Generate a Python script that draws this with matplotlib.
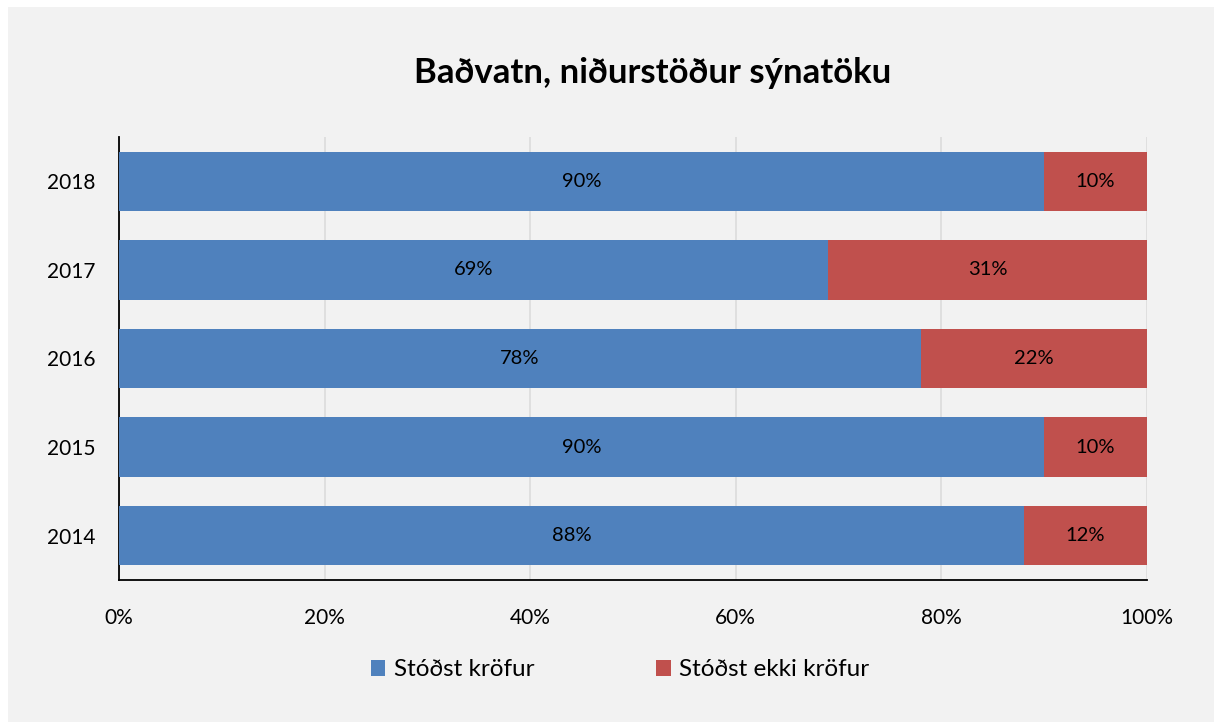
import matplotlib.pyplot as plt
from matplotlib.patches import Rectangle

plt.rcParams["font.family"] = ["Lato", "DejaVu Sans"]

years = ["2014", "2015", "2016", "2017", "2018"]
passed = [88, 90, 78, 69, 90]
failed = [12, 10, 22, 31, 10]
labels = ["Stóðst kröfur", "Stóðst ekki kröfur"]
colors = ["#4F81BD", "#C0504D"]

fig = plt.figure(figsize=(12.14, 7.22), dpi=100, facecolor="white")
fig.patches.append(
    Rectangle((8 / 1214, 0), 1 - 8 / 1214, 1 - 7 / 722,
              transform=fig.transFigure, facecolor="#F2F2F2", edgecolor="none", zorder=-10)
)
ax = fig.add_axes([119 / 1214, 1 - 580 / 722, (1147 - 119) / 1214, (580 - 137) / 722])
ax.set_facecolor("#F2F2F2")

ypos = range(len(years))
b1 = ax.barh(ypos, passed, height=0.67, color=colors[0], label=labels[0], zorder=3)
b2 = ax.barh(ypos, failed, left=passed, height=0.67, color=colors[1], label=labels[1], zorder=3)
for bars, vals in [(b1, passed), (b2, failed)]:
    for rect, v in zip(bars, vals):
        ax.text(rect.get_x() + rect.get_width() / 2, rect.get_y() + rect.get_height() / 2,
                f"{v}%", ha="center", va="center", fontsize=14.5, color="black", zorder=4)

ax.set_xlim(0, 100)
ax.set_ylim(-0.5, 4.5)
ax.set_yticks(list(ypos))
ax.set_yticklabels(years, fontsize=15)
ax.set_xticks(range(0, 101, 20))
ax.set_xticklabels([f"{x}%" for x in range(0, 101, 20)], fontsize=15)
ax.tick_params(axis="both", length=0)
ax.tick_params(axis="x", pad=20)
ax.tick_params(axis="y", pad=17)
ax.grid(True, axis="x", color="#DCDCDC", linewidth=1.2, zorder=0)
for s in ["top", "right"]:
    ax.spines[s].set_visible(False)
for s in ["left", "bottom"]:
    ax.spines[s].set_color("black")
    ax.spines[s].set_linewidth(1.3)

fig.text(653 / 1214, 1 - 73 / 722, "Baðvatn, niðurstöður sýnatöku",
         ha="center", va="center", fontsize=25, fontweight="bold")

fig.legend(handles=[b1, b2], labels=labels, loc="center", ncol=2,
           bbox_to_anchor=(620 / 1214, 1 - 670 / 722), frameon=False, fontsize=17.5,
           handlelength=0.6, handleheight=0.6, handletextpad=0.35, columnspacing=5.0)

fig.savefig("out.png", dpi=100, facecolor=fig.get_facecolor())
